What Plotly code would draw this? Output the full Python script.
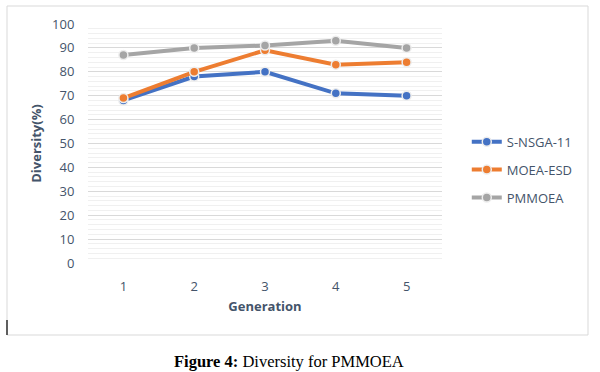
import plotly.graph_objects as go

generations = [1, 2, 3, 4, 5]
s_nsga = [68, 78, 80, 71, 70]
moea_esd = [69, 80, 89, 83, 84]
pmmoea = [87, 90, 91, 93, 90]

series = [("S-NSGA-11", s_nsga, "#4472C4"),
          ("MOEA-ESD", moea_esd, "#ED7D31"),
          ("PMMOEA", pmmoea, "#A5A5A5")]

txt = "#44546A"
fig = go.Figure()
for name, vals, col in series:
    fig.add_trace(go.Scatter(
        x=generations, y=vals, name=name, mode="lines+markers",
        line=dict(color=col, width=4),
        marker=dict(color=col, size=9, line=dict(color="#EDEDED", width=1.5)),
        legendgroup=name,
    ))

fig.update_layout(
    width=600, height=372,
    margin=dict(l=88, r=158, t=24, b=109, autoexpand=False),
    paper_bgcolor="white", plot_bgcolor="white",
    font=dict(family="Open Sans, DejaVu Sans, sans-serif", color=txt, size=13),
    showlegend=True,
    legend=dict(x=1.07, y=0.57, xanchor="left", yanchor="top",
                font=dict(size=13, color=txt), tracegroupgap=8,
                bgcolor="rgba(0,0,0,0)"),
    xaxis=dict(range=[0.5, 5.5], tickvals=generations, ticktext=[str(g) for g in generations],
               showgrid=False, zeroline=False, showline=False,
               ticks="outside", ticklen=11, tickcolor="rgba(0,0,0,0)",
               tickfont=dict(size=13, color=txt),
               title=dict(text="<b>Generation</b>", font=dict(size=13, color=txt), standoff=8)),
    yaxis=dict(range=[0, 100], dtick=10, showgrid=True, gridcolor="#D9D9D9", gridwidth=1,
               zeroline=False, showline=False,
               ticks="outside", ticklen=10, tickcolor="rgba(0,0,0,0)",
               tickfont=dict(size=13, color=txt),
               minor=dict(dtick=2, showgrid=True, gridcolor="#F0F0F0", gridwidth=1, ticks=""),
               title=dict(text="<b>Diversity(%)</b>", font=dict(size=13, color=txt), standoff=7)),
)

# chart frame
fig.add_shape(type="rect", xref="paper", yref="paper",
              x0=(7-88)/354, x1=(588-88)/354, y0=(263-335)/239, y1=(263-6)/239,
              line=dict(color="#D9D9D9", width=1), fillcolor="rgba(0,0,0,0)", layer="below")
# text cursor artifact
fig.add_shape(type="line", xref="paper", yref="paper",
              x0=(7-88)/354, x1=(7-88)/354, y0=(263-320)/239, y1=(263-335)/239,
              line=dict(color="black", width=1.2))

fig.add_annotation(xref="paper", yref="paper", x=(289-88)/354, y=(263-361)/239,
                   text="<b>Figure 4:</b> Diversity for PMMOEA", showarrow=False,
                   font=dict(family="Liberation Serif, Times New Roman, serif", size=16.5, color="black"),
                   xanchor="center", yanchor="middle")

fig.write_html("out.html", config={"displayModeBar": False},
               post_script="document.body.style.margin='0';document.body.style.overflow='hidden';")
